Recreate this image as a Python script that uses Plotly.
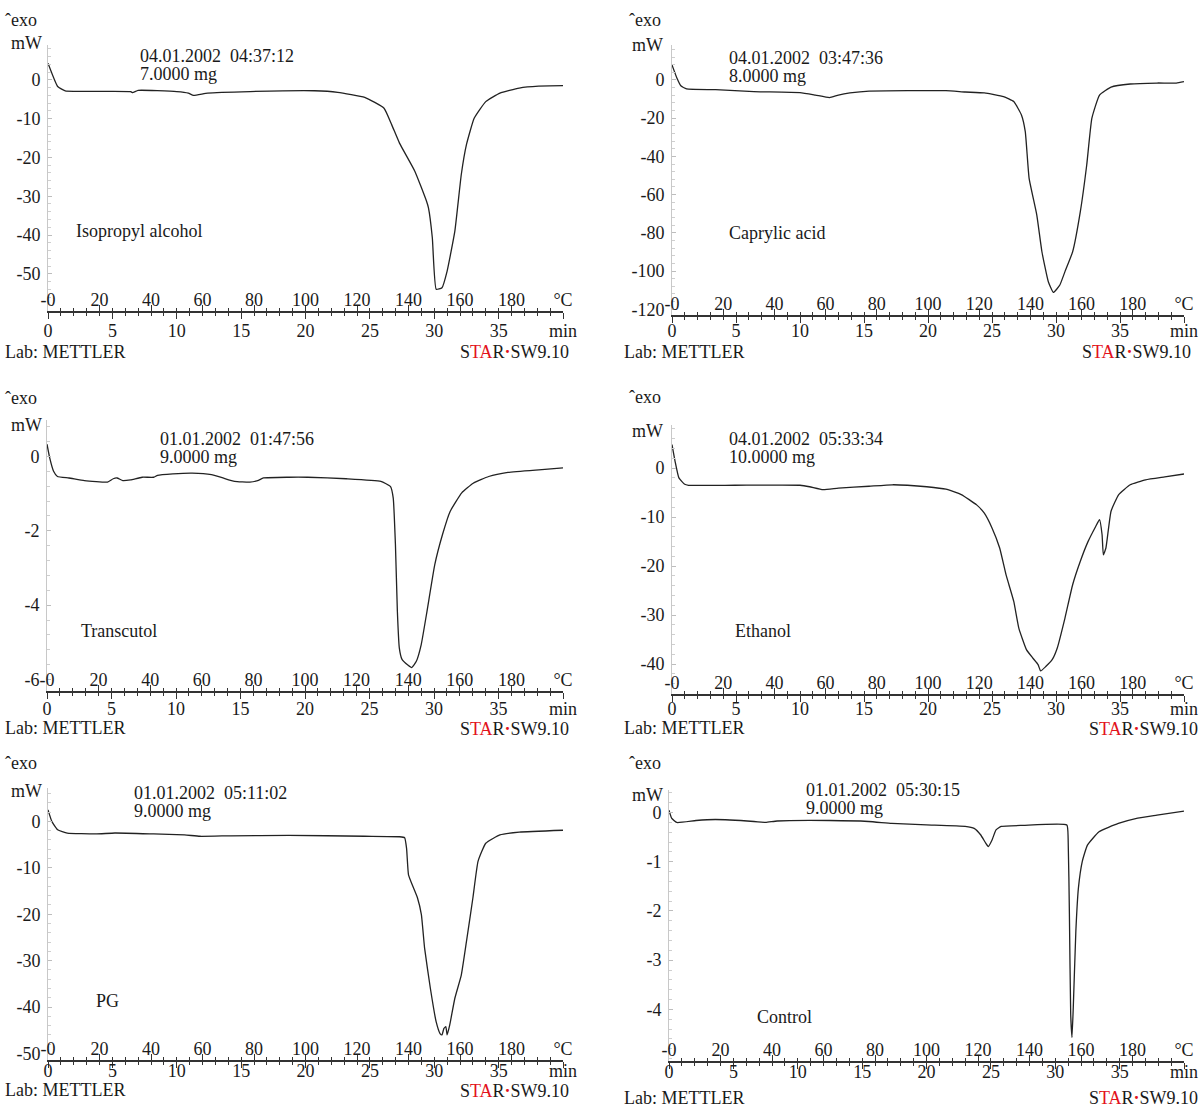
import plotly.graph_objects as go

W, H = 1204, 1107

# ---------------- data (time in min, heat flow in mW) ----------------
iso_t = [0, 0.75, 1.34, 6.42, 6.57, 7.0, 10.0, 10.9, 11.3, 12.4, 15.7, 20.7, 22.5, 24.6, 26.1, 26.7,
         27.3, 28.5, 29.4, 29.55, 29.85, 30.15, 30.6, 31.0, 31.6, 32.1, 32.5, 33.1, 34.0, 35.1, 36.6, 38.1, 40.0]
iso_mw = [4.3, -1.7, -2.8, -3.0, -3.3, -2.7, -3.0, -3.4, -4.0, -3.4, -3.0, -2.8, -3.2, -4.5, -7.3, -11.6,
          -16.3, -23.6, -31.3, -33.0, -40.7, -54.0, -53.6, -49.3, -39.0, -24.4, -16.7, -9.9, -5.6, -3.4, -2.1, -1.6, -1.5]

cap_t = [0, 0.39, 0.69, 1.14, 3.4, 6.4, 10.0, 11.2, 12.3, 13.0, 13.9, 15.4, 21.4, 22.9, 24.4, 25.9, 26.7,
         27.3, 27.6, 27.9, 28.5, 28.9, 29.4, 29.8, 30.3, 30.7, 31.3, 31.9, 32.4, 32.8, 33.4, 34.3, 35.8, 37.9, 39.4, 40.0]
cap_mw = [7.9, 0.9, -3.0, -4.7, -5.1, -6.1, -6.6, -7.9, -9.2, -7.9, -6.8, -5.8, -5.6, -6.3, -6.8, -8.7, -11.3,
          -18.3, -27.0, -51.5, -70.7, -89.9, -105.6, -111.2, -107.3, -100.3, -89.9, -68.9, -44.5, -20.1, -7.9, -3.7, -2.1, -1.6, -1.6, -0.9]

tra_t = [0, 0.21, 0.51, 0.81, 1.70, 2.90, 4.69, 5.13, 5.43, 5.88, 6.48, 7.37, 8.27, 8.57, 9.76, 11.25, 12.75,
         13.64, 14.54, 15.73, 16.33, 16.78, 18.72, 20.21, 23.19, 25.88, 26.63, 26.84, 27.01, 27.16, 27.31, 27.52,
         27.97, 28.27, 28.63, 29.01, 29.46, 30.06, 30.66, 31.25, 32.15, 33.04, 34.24, 35.73, 38.12, 40.0]
tra_mw = [0.33, -0.04, -0.40, -0.54, -0.58, -0.65, -0.69, -0.60, -0.58, -0.65, -0.63, -0.56, -0.56, -0.51, -0.47,
          -0.45, -0.49, -0.58, -0.67, -0.69, -0.65, -0.58, -0.56, -0.56, -0.60, -0.67, -0.81, -1.12, -2.37, -4.16,
          -5.15, -5.46, -5.61, -5.68, -5.51, -5.06, -4.16, -2.91, -2.10, -1.48, -0.98, -0.72, -0.54, -0.43, -0.36, -0.31]

eth_t = [0, 0.24, 0.54, 0.99, 1.29, 4.9, 10.0, 10.75, 11.8, 13.0, 15.4, 17.2, 18.4, 19.9, 21.4, 22.6, 23.8,
         24.4, 25.0, 25.6, 26.1, 26.7, 27.1, 27.7, 28.2, 28.6, 28.8, 29.2, 29.7, 30.1, 30.7, 31.3, 31.9, 32.5,
         33.1, 33.4, 33.6, 33.7, 33.9, 34.3, 34.9, 35.8, 37.0, 38.5, 40.0]
eth_mw = [4.8, 1.4, -2.0, -3.3, -3.5, -3.5, -3.5, -3.8, -4.4, -4.1, -3.7, -3.4, -3.5, -3.8, -4.3, -5.4, -7.5,
          -9.2, -12.2, -16.3, -21.8, -27.2, -32.7, -37.1, -38.8, -40.1, -41.4, -40.5, -39.1, -36.7, -30.6, -23.8,
          -19.0, -15.0, -11.9, -10.5, -13.6, -17.7, -16.3, -8.8, -5.4, -3.4, -2.4, -1.8, -1.2]

pg_t = [0, 0.3, 0.75, 1.5, 3.7, 5.2, 8.2, 10.6, 11.8, 14.2, 18.7, 24.6, 27.3, 27.7, 27.85, 28.0, 28.4, 28.7,
        29.0, 29.25, 29.7, 30.15, 30.45, 30.6, 30.75, 30.9, 31.0, 31.2, 31.6, 32.1, 32.5, 33.0, 33.4, 34.0,
        35.1, 36.6, 40.0]
pg_mw = [2.5, 0.0, -1.8, -2.5, -2.7, -2.5, -2.7, -2.9, -3.2, -3.1, -3.0, -3.2, -3.3, -3.5, -5.8, -11.5, -14.4,
         -16.5, -20.1, -27.3, -36.0, -43.2, -45.7, -46.0, -44.6, -44.2, -46.0, -43.9, -38.1, -33.1, -25.9, -16.5,
         -8.6, -4.7, -2.9, -2.3, -1.9]

ctl_t = [0, 0.2, 0.6, 2.1, 3.6, 6.6, 7.5, 8.4, 12.5, 15.5, 17.3, 20.0, 23.0, 23.7, 24.2, 24.6, 24.8, 25.1,
         25.4, 25.8, 27.5, 30.9, 31.0, 31.1, 31.2, 31.3, 31.4, 31.6, 31.8, 32.1, 32.5, 33.4, 34.9, 36.4, 37.9, 40.0]
ctl_mw = [0.05, -0.11, -0.20, -0.16, -0.14, -0.18, -0.20, -0.17, -0.16, -0.18, -0.22, -0.25, -0.28, -0.32,
          -0.45, -0.62, -0.69, -0.55, -0.35, -0.28, -0.26, -0.25, -0.52, -2.07, -4.10, -4.57, -3.96, -2.41,
          -1.53, -0.99, -0.66, -0.39, -0.22, -0.11, -0.05, 0.03]

sample_names = ["Isopropyl alcohol", "Caprylic acid", "Transcutol", "Ethanol", "PG", "Control"]
run_dates = ["04.01.2002  04:37:12", "04.01.2002  03:47:36", "01.01.2002  01:47:56",
             "04.01.2002  05:33:34", "01.01.2002  05:11:02", "01.01.2002  05:30:15"]
sample_masses = ["7.0000 mg", "8.0000 mg", "9.0000 mg", "10.0000 mg", "9.0000 mg", "9.0000 mg"]

min_tickvals = [0, 5, 10, 15, 20, 25, 30, 35, 40]
min_ticktext = ["0", "5", "10", "15", "20", "25", "30", "35", "min"]
temp_tickvals = [0, 20, 40, 60, 80, 100, 120, 140, 160, 180, 200]
temp_ticktext = ["-0", "20", "40", "60", "80", "100", "120", "140", "160", "180", "°C"]
heating_rate = 5.0   # °C / min
run_length = 40.0    # min

y_ticks = [
    [0, -10, -20, -30, -40, -50],
    [0, -20, -40, -60, -80, -100, -120],
    [0, -2, -4, -6],
    [0, -10, -20, -30, -40],
    [0, -10, -20, -30, -40, -50],
    [0, -1, -2, -3, -4],
]
y_ranges = [[-59.6, 9.0], [-123.0, 18.3], [-6.31, 0.98], [-46.1, 8.8], [-51.4, 7.2], [-5.05, 0.46]]

series = [(iso_t, iso_mw), (cap_t, cap_mw), (tra_t, tra_mw), (eth_t, eth_mw), (pg_t, pg_mw), (ctl_t, ctl_mw)]

# ---------------- layout geometry (pixels) ----------------
# plot box: x0, x1, ytop, ybottom
boxes = [
    (48, 563, 45, 311),
    (672, 1184, 45, 315),
    (47, 563, 420, 691),
    (672, 1184, 425, 694),
    (48, 563, 788, 1060),
    (669, 1184, 790, 1061),
]
min_label_standoff = [-3, -7, -5, -8, -12, -12]
# text anchor positions (pixels)
text_pos = [
    dict(exo=(3, 20), mw=(44, 43), date=(138, 56), mass=(138, 74), name=(74, 231), lab=(3, 352), star=(571, 352)),
    dict(exo=(627, 20), mw=(665, 45), date=(727, 58), mass=(727, 76), name=(727, 233), lab=(622, 352), star=(1193, 352)),
    dict(exo=(3, 398), mw=(44, 425), date=(158, 439), mass=(158, 457), name=(79, 631), lab=(3, 728), star=(571, 729)),
    dict(exo=(627, 397), mw=(665, 431), date=(727, 439), mass=(727, 457), name=(733, 631), lab=(622, 728), star=(1200, 729)),
    dict(exo=(3, 763), mw=(44, 791), date=(132, 793), mass=(132, 811), name=(94, 1001), lab=(3, 1090), star=(571, 1091)),
    dict(exo=(627, 763), mw=(665, 795), date=(804, 790), mass=(804, 808), name=(755, 1017), lab=(622, 1098), star=(1200, 1098)),
]

FONT = "Liberation Serif"
TXT = "#1a1a1a"
AX = "#333333"
FS = 18


def fx(px):
    return px / W


def fy(py):
    return 1 - py / H


fig = go.Figure()
layout = dict(
    template="none",
    width=W, height=H, margin=dict(l=0, r=0, t=0, b=0, autoexpand=False),
    paper_bgcolor="white", plot_bgcolor="white", showlegend=False,
    font=dict(family=FONT, size=FS, color=TXT),
)
annotations = []


def ann(text, pos, xanchor="left", size=FS):
    annotations.append(dict(
        text=text, x=fx(pos[0]), y=fy(pos[1]), xref="paper", yref="paper",
        xanchor=xanchor, yanchor="middle", showarrow=False,
        font=dict(family=FONT, size=size, color=TXT),
    ))


for i in range(6):
    n = i + 1
    nb = i + 7
    x0, x1, yt, yb = boxes[i]
    t, mw = series[i]
    ticks = y_ticks[i]
    major = abs(ticks[1] - ticks[0])

    fig.add_trace(go.Scatter(
        x=t, y=mw, xaxis=f"x{n}", yaxis=f"y{n}", mode="lines",
        line=dict(color="#222222", width=1.3, shape="spline", smoothing=0.4), hoverinfo="skip",
    ))
    # temperature scale of the same run (heating at a constant rate)
    fig.add_trace(go.Scatter(
        x=[v * heating_rate for v in t], y=mw, xaxis=f"x{nb}", yaxis=f"y{n}", mode="lines",
        line=dict(color="rgba(0,0,0,0)", width=0), hoverinfo="skip",
    ))

    layout[f"xaxis{n}"] = dict(
        domain=[fx(x0), fx(x1)], range=[0, run_length], anchor=f"y{n}", automargin=False,
        showline=True, linecolor=AX, linewidth=1.5,
        ticks="outside", ticklen=6, tickwidth=1.2, tickcolor=AX,
        tickmode="array", tickvals=min_tickvals, ticktext=min_ticktext,
        tickfont=dict(family=FONT, size=FS, color=TXT),
        ticklabeloverflow="allow", ticklabelstandoff=min_label_standoff[i],
        minor=dict(tickmode="linear", tick0=0, dtick=1, ticks="outside", ticklen=3, tickwidth=1, tickcolor=AX),
        showgrid=False, zeroline=False, fixedrange=True,
    )
    layout[f"xaxis{nb}"] = dict(
        overlaying=f"x{n}", anchor=f"y{n}", side="bottom", automargin=False,
        range=[0, run_length * heating_rate],
        showline=False, ticks="inside", ticklen=6, tickwidth=1.2, tickcolor=AX,
        tickmode="array", tickvals=temp_tickvals, ticktext=temp_ticktext,
        ticklabelposition="inside", ticklabeloverflow="allow", ticklabelstandoff=-4,
        tickfont=dict(family=FONT, size=FS, color=TXT),
        minor=dict(tickmode="linear", tick0=0, dtick=heating_rate, ticks="inside", ticklen=3, tickwidth=1, tickcolor=AX),
        showgrid=False, zeroline=False, fixedrange=True,
    )
    layout[f"yaxis{n}"] = dict(
        domain=[fy(yb), fy(yt)], range=y_ranges[i], anchor=f"x{n}", automargin=False,
        showline=True, linecolor="#c8c8c8", linewidth=1,
        ticks="inside", ticklen=4, tickwidth=1, tickcolor="#bdbdbd",
        tickmode="array", tickvals=ticks, ticktext=[("-" + str(abs(v))) if v < 0 else str(v) for v in ticks],
        tickfont=dict(family=FONT, size=FS, color=TXT), ticklabelstandoff=3,
        minor=dict(tickmode="linear", tick0=0, dtick=major / 5, ticks="inside", ticklen=3, tickwidth=1, tickcolor="#cfcfcf"),
        showgrid=False, zeroline=False, fixedrange=True,
    )

    p = text_pos[i]
    ann("ˆexo", p["exo"])
    ann("mW", p["mw"], xanchor="right")
    ann(run_dates[i].replace(" ", "\u00a0"), p["date"])
    ann(sample_masses[i], p["mass"])
    ann(sample_names[i], p["name"])
    ann("Lab: METTLER", p["lab"])
    ann('S<span style="color:#e3121b">TA</span>R<span style="color:#e3121b"><b>·</b></span>SW9.10',
        p["star"], xanchor="right")

layout["annotations"] = annotations
fig.update_layout(**layout)
fig.write_html("out.html", config={"displayModeBar": False},
               post_script="document.body.style.margin='0';document.body.style.overflow='hidden';")
